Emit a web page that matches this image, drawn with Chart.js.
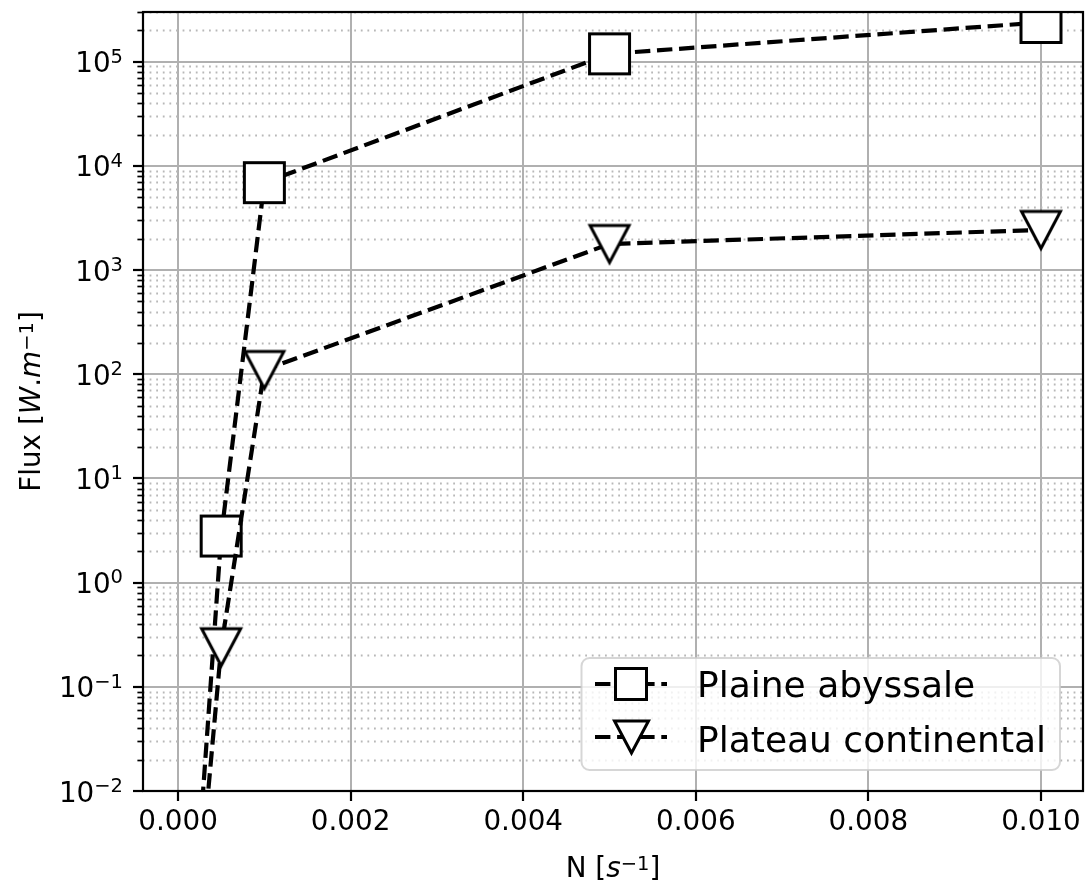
<!DOCTYPE html>
<html><head><meta charset="utf-8">
<script src="https://cdn.jsdelivr.net/npm/chart.js@4.4.0/dist/chart.umd.min.js"></script>
<style>html,body{margin:0;padding:0;background:#fff;} #wrap{width:1092px;height:887px;position:relative;}</style>
</head><body><div id="wrap"><canvas id="c"></canvas></div>
<script>
// ---------- data ----------
const N = [0.0001, 0.0005, 0.001, 0.005, 0.01];
const fluxPlaine = [6e-5, 2.8, 6900, 1.19e5, 2.38e5];
const fluxPlateau = [5e-5, 0.24, 110, 1780, 2430];
const seriesNames = ['Plaine abyssale', 'Plateau continental'];
const xTicks = [0, 0.002, 0.004, 0.006, 0.008, 0.010];
const xTickLabels = ['0.000', '0.002', '0.004', '0.006', '0.008', '0.010'];
const yExponents = [-2, -1, 0, 1, 2, 3, 4, 5];
const yTickLabels = ['\u22122', '\u22121', '0', '1', '2', '3', '4', '5'];
const xLimits = [-0.000406, 0.010487];
const yLimits = [0.01, 3e5];

// ---------- styling ----------
const FONT = '"DejaVu Sans"';
const TICK_SIZE = 27.8, SUP_SIZE = 19.5, LEG_SIZE = 36;
const GRID = '#b0b0b0';

function mkCanvas(w, h) { const c = document.createElement('canvas'); c.width = w; c.height = h; return c; }
function squareMarker(side, lw) {
  const s = Math.ceil(side + lw + 4); const c = mkCanvas(s, s); const g = c.getContext('2d');
  const o = (s - side) / 2;
  g.fillStyle = '#fff'; g.strokeStyle = '#000'; g.lineWidth = lw; g.lineJoin = 'miter';
  g.beginPath(); g.rect(o, o, side, side); g.fill(); g.stroke();
  return c;
}
function triangleMarker(w, h, lw) {
  const cw = Math.ceil(w + lw * 3 + 4), ch = Math.ceil(h + lw * 4 + 4);
  const c = mkCanvas(cw, ch); const g = c.getContext('2d');
  const cx = cw / 2, cy = ch / 2;
  g.fillStyle = '#fff'; g.strokeStyle = '#000'; g.lineWidth = lw; g.lineJoin = 'miter';
  g.beginPath(); g.moveTo(cx - w / 2, cy - h / 2); g.lineTo(cx + w / 2, cy - h / 2); g.lineTo(cx, cy + h / 2); g.closePath();
  g.fill(); g.stroke();
  return c;
}
const sqPlot = squareMarker(40, 3), triPlot = triangleMarker(39, 37, 3);
const sqLeg = squareMarker(31, 3), triLeg = triangleMarker(34, 32, 3);

function richWidth(ctx, parts) {
  let w = 0;
  for (const p of parts) { ctx.font = (p.it ? 'italic ' : '') + (p.sup ? SUP_SIZE : TICK_SIZE) + 'px ' + FONT; w += ctx.measureText(p.t).width; }
  return w;
}
function drawRich(ctx, parts, x, y) {
  ctx.textAlign = 'left'; ctx.textBaseline = 'alphabetic'; ctx.fillStyle = '#000';
  for (const p of parts) {
    ctx.font = (p.it ? 'italic ' : '') + (p.sup ? SUP_SIZE : TICK_SIZE) + 'px ' + FONT;
    ctx.fillText(p.t, x, y - (p.sup ? p.raise : 0));
    x += ctx.measureText(p.t).width;
  }
}

const decor = {
  id: 'decor',
  beforeDatasetsDraw(chart) {
    const ctx = chart.ctx, a = chart.chartArea, ys = chart.scales.y;
    ctx.save();
    for (let k = -2; k <= 5; k++) {
      for (let m = 2; m <= 9; m++) {
        const v = m * Math.pow(10, k);
        if (v < yLimits[0] || v > yLimits[1]) continue;
        const py = Math.round(ys.getPixelForValue(v)) + 0.5;
        ctx.strokeStyle = '#b8b8b8'; ctx.lineWidth = 1.8; ctx.setLineDash([1.8, 4.8]);
        ctx.beginPath(); ctx.moveTo(a.left, py); ctx.lineTo(a.right, py); ctx.stroke();
        ctx.setLineDash([]); ctx.strokeStyle = '#000'; ctx.lineWidth = 1.7;
        ctx.beginPath(); ctx.moveTo(a.left - 5.6, py); ctx.lineTo(a.left, py); ctx.stroke();
      }
    }
    ctx.restore();
  },
  afterDatasetsDraw(chart) {
    const ctx = chart.ctx, a = chart.chartArea, xs = chart.scales.x, ys = chart.scales.y;
    ctx.save();
    ctx.strokeStyle = '#000'; ctx.lineWidth = 2.2; ctx.setLineDash([]);
    ctx.strokeRect(a.left, a.top, a.right - a.left, a.bottom - a.top);
    ctx.fillStyle = '#000'; ctx.font = TICK_SIZE + 'px ' + FONT; ctx.textAlign = 'center'; ctx.textBaseline = 'alphabetic';
    xTicks.forEach((v, i) => ctx.fillText(xTickLabels[i], xs.getPixelForValue(v), 830));
    yExponents.forEach((e, i) => {
      const parts = [{ t: '10' }, { t: yTickLabels[i], sup: true, raise: 9.7 }];
      const w = richWidth(ctx, parts);
      drawRich(ctx, parts, 123 - w, ys.getPixelForValue(Math.pow(10, e)) + 10.5);
    });
    const xt = [{ t: 'N [' }, { t: 's', it: true }, { t: '\u22121', sup: true, raise: 7.5 }, { t: ']' }];
    const xw = richWidth(ctx, xt);
    drawRich(ctx, xt, (a.left + a.right) / 2 - xw / 2, 877);
    const yt = [{ t: 'Flux [' }, { t: 'W', it: true }, { t: '.' }, { t: 'm', it: true }, { t: '\u22121', sup: true, raise: 7.5 }, { t: ']' }];
    const yw = richWidth(ctx, yt);
    ctx.translate(40, (a.top + a.bottom) / 2); ctx.rotate(-Math.PI / 2);
    drawRich(ctx, yt, -yw / 2, 0);
    ctx.restore();
  },
  afterDraw(chart) {
    const ctx = chart.ctx;
    ctx.save();
    ctx.beginPath(); ctx.roundRect(581.5, 658, 478.5, 112, 8);
    ctx.fillStyle = 'rgba(255,255,255,0.8)'; ctx.fill();
    ctx.strokeStyle = 'rgba(204,204,204,0.8)'; ctx.lineWidth = 2; ctx.stroke();
    const rows = [{ ly: 684, ty: 697, m: sqLeg }, { ly: 737, ty: 752, m: triLeg }];
    rows.forEach((r, i) => {
      ctx.save();
      ctx.beginPath(); ctx.rect(595, r.ly - 5, 72, 10); ctx.clip();
      ctx.strokeStyle = '#000'; ctx.lineWidth = 4.2; ctx.lineCap = 'butt'; ctx.setLineDash([15.4, 6.7]);
      ctx.beginPath(); ctx.moveTo(595, r.ly); ctx.lineTo(667, r.ly); ctx.stroke();
      ctx.restore();
      ctx.drawImage(r.m, Math.round(631 - r.m.width / 2), Math.round(r.ly - r.m.height / 2));
      ctx.fillStyle = '#000'; ctx.font = LEG_SIZE + 'px ' + FONT; ctx.textAlign = 'left'; ctx.textBaseline = 'alphabetic';
      ctx.fillText(seriesNames[i], 697, r.ty);
    });
    ctx.restore();
  }
};

const lineStyle = { showLine: true, borderColor: '#000', backgroundColor: '#fff', borderWidth: 4.2,
  borderDash: [15.4, 6.7], borderCapStyle: 'butt', tension: 0, clip: 0, pointRadius: 21, pointHoverRadius: 21 };

new Chart(document.getElementById('c'), {
  type: 'scatter',
  data: {
    datasets: [
      Object.assign({ label: seriesNames[0], data: N.map((x, i) => ({ x, y: fluxPlaine[i] })), pointStyle: sqPlot, order: 1 }, lineStyle),
      Object.assign({ label: seriesNames[1], data: N.map((x, i) => ({ x, y: fluxPlateau[i] })), pointStyle: triPlot, order: 0 }, lineStyle)
    ]
  },
  options: {
    responsive: true, maintainAspectRatio: false, animation: false, events: [],
    layout: { autoPadding: false, padding: { top: 12, right: 9, left: 0, bottom: 0 } },
    plugins: { legend: { display: false }, tooltip: { enabled: false } },
    scales: {
      x: {
        type: 'linear', min: xLimits[0], max: xLimits[1], bounds: 'data',
        afterBuildTicks: s => { s.ticks = xTicks.map(v => ({ value: v })); },
        afterFit: s => { s.height = 96; },
        ticks: { display: false },
        border: { display: false },
        grid: { color: GRID, lineWidth: 2, drawTicks: true, tickLength: 10, tickColor: '#000', tickWidth: 2.2 }
      },
      y: {
        type: 'logarithmic', min: yLimits[0], max: yLimits[1], bounds: 'data',
        afterBuildTicks: s => { s.ticks = yExponents.map(e => ({ value: Math.pow(10, e), major: true })); },
        afterFit: s => { s.width = 143; },
        ticks: { display: false },
        border: { display: false },
        grid: { color: GRID, lineWidth: 2, drawTicks: true, tickLength: 10, tickColor: '#000', tickWidth: 2.2 }
      }
    }
  },
  plugins: [decor]
});
</script></body></html>
